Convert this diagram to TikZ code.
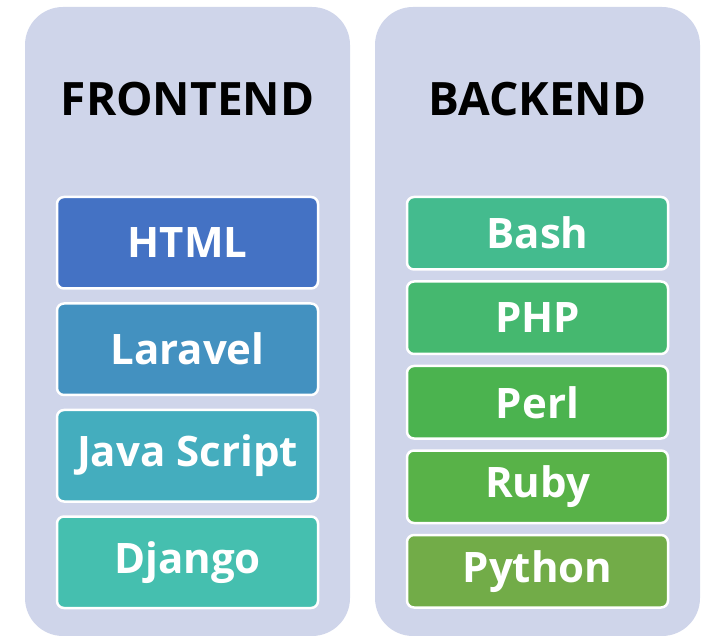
\documentclass[tikz,border=0pt]{standalone}
\usepackage{fontspec}
\setmainfont{Open Sans}
\definecolor{panelbg}{HTML}{CFD5EA}
\definecolor{cHtml}{HTML}{4472C4}
\definecolor{cLaravel}{HTML}{4391C0}
\definecolor{cJs}{HTML}{44ADBE}
\definecolor{cDjango}{HTML}{45BFAF}
\definecolor{cBash}{HTML}{44BB8E}
\definecolor{cPhp}{HTML}{45B86F}
\definecolor{cPerl}{HTML}{4BB34F}
\definecolor{cRuby}{HTML}{58B248}
\definecolor{cPython}{HTML}{72AC48}
\tikzset{
  panel/.style={fill=panelbg, rounded corners=38pt},
  heading/.style={font=\fontsize{46}{50}\selectfont\bfseries, text=black, inner sep=0pt},
  techbox/.style={rectangle, rounded corners=7pt, draw=white, line width=2.5pt,
    minimum width=261pt, text=white, inner sep=0pt,
    font=\fontsize{42}{46}\selectfont\bfseries},
  frontbox/.style={techbox, minimum height=91.5pt},
  backbox/.style={techbox, minimum height=72.5pt}
}
\begin{document}
\begin{tikzpicture}[x=1pt, y=-1pt]
\useasboundingbox (0,0) rectangle (710,636);
% the two columns
\fill[panel] (25,7) rectangle (350,636);
\fill[panel] (375,7) rectangle (700,636);
% column headings
\node[heading] (front) at (187.5,99) {FRONTEND};
\node[heading] (back) at (537.5,99) {BACKEND};
% frontend stack
\node[frontbox, fill=cHtml] (html) at (187.5,242.75) {HTML};
\node[frontbox, fill=cLaravel] (laravel) at (187.5,349.25) {Laravel};
\node[frontbox, fill=cJs] (js) at (187.5,455.75) {Java Script};
\node[frontbox, fill=cDjango] (django) at (187.5,562.25) {Django};
% backend stack
\node[backbox, fill=cBash] (bash) at (537.5,233.25) {Bash};
\node[backbox, fill=cPhp] (php) at (537.5,317.75) {PHP};
\node[backbox, fill=cPerl] (perl) at (537.5,402.25) {Perl};
\node[backbox, fill=cRuby] (ruby) at (537.5,486.75) {Ruby};
\node[backbox, fill=cPython] (python) at (537.5,571.25) {Python};
\end{tikzpicture}
\end{document}
